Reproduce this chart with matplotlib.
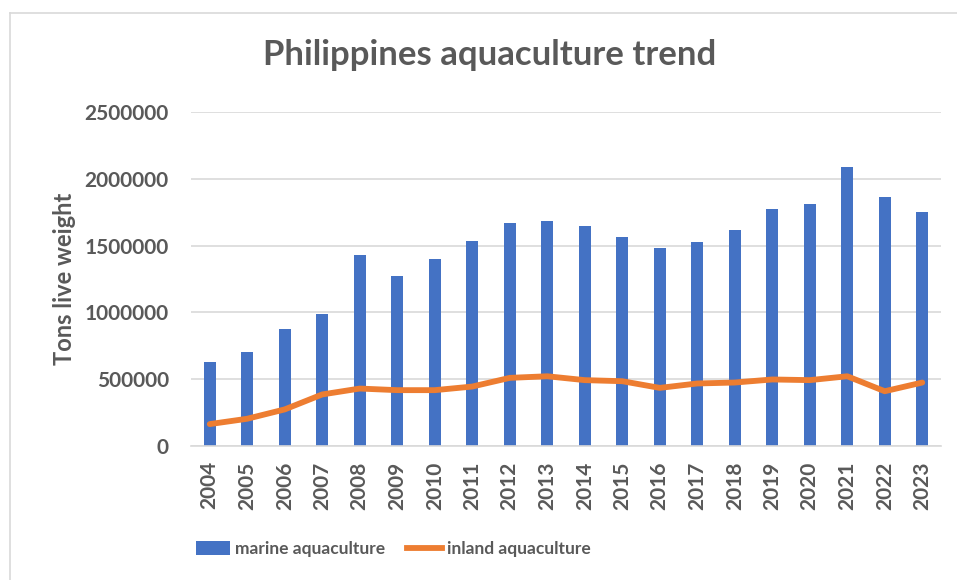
"""
Philippines aquaculture production: marine (bars) and inland (line)
"""
import matplotlib.pyplot as plt
import numpy as np
from matplotlib.lines import Line2D
from matplotlib.patches import Patch

years = ['2004', '2005', '2006', '2007', '2008', '2009', '2010', '2011', '2012', '2013',
         '2014', '2015', '2016', '2017', '2018', '2019', '2020', '2021', '2022', '2023']

marine = [632000, 701000, 873000, 985000, 1433000, 1271000, 1398000, 1537000, 1672000, 1681000,
          1647000, 1567000, 1485000, 1530000, 1617000, 1776000, 1813000, 2090000, 1866000, 1754000]

inland = [164000, 204000, 274000, 386000, 430000, 418000, 418000, 445000, 510000, 522000,
          493000, 485000, 435000, 468000, 475000, 498000, 493000, 522000, 410000, 475000]

yticks = [0, 500000, 1000000, 1500000, 2000000, 2500000]

blue = '#4472C4'
orange = '#ED7D31'
grey = '#595959'

plt.rcParams['font.family'] = ['Lato', 'DejaVu Sans']

fig = plt.figure(figsize=(9.57, 5.8), dpi=100)
ax = fig.add_axes([191 / 957, 134 / 580, 750 / 957, 334 / 580])

x = np.arange(len(years))
ax.bar(x, marine, width=0.31, color=blue, zorder=2)
ax.plot(x, inland, color=orange, lw=4.2, solid_capstyle='round',
        solid_joinstyle='round', zorder=3)

ax.set_xlim(-0.5, len(years) - 0.5)
ax.set_ylim(0, 2500000)
ax.set_yticks(yticks)
ax.set_yticklabels([str(v) for v in yticks])
ax.set_xticks(x)
ax.set_xticklabels(years, rotation=90)

ax.grid(axis='y', color='#D9D9D9', lw=1.2, zorder=0)
for s in ['top', 'right', 'left']:
    ax.spines[s].set_visible(False)
ax.spines['bottom'].set_color('#D9D9D9')
ax.spines['bottom'].set_linewidth(1.2)
ax.tick_params(axis='both', length=0, labelsize=15, colors=grey)
ax.tick_params(axis='y', pad=16)
ax.tick_params(axis='x', pad=11)
for lbl in ax.get_xticklabels() + ax.get_yticklabels():
    lbl.set_fontweight('bold')

ax.set_ylabel('Tons live weight', fontsize=17, fontweight='bold', color=grey, labelpad=6)

fig.text(490 / 957, 1 - 55 / 580, 'Philippines aquaculture trend', ha='center', va='center',
         fontsize=25, fontweight='bold', color=grey)

handles = [Patch(facecolor=blue, edgecolor='none'),
           Line2D([0], [0], color=orange, lw=4.2)]
leg = fig.legend(handles, ['marine aquaculture', 'inland aquaculture'],
                 loc='center', bbox_to_anchor=(393 / 957, 1 - 549 / 580), ncol=2,
                 frameon=False, handlelength=2.0, handleheight=0.85, handletextpad=0.25,
                 columnspacing=1.3, prop={'size': 12.5, 'weight': 'bold'})
for t in leg.get_texts():
    t.set_color(grey)

# chart area border
fig.add_artist(Line2D([9.5 / 957, 1.0], [1 - 12.5 / 580] * 2, color='#D9D9D9', lw=1.2))
fig.add_artist(Line2D([9.5 / 957] * 2, [0.0, 1 - 12.5 / 580], color='#D9D9D9', lw=1.2))

fig.savefig('out.png', dpi=100, facecolor='white')
